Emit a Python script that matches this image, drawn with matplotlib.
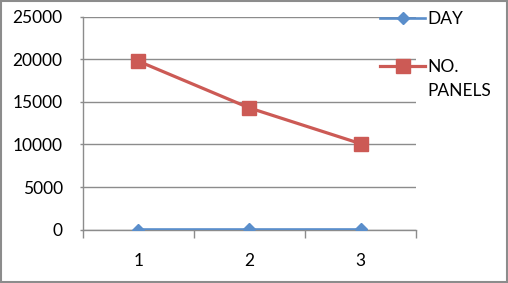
import matplotlib
matplotlib.use('Agg')
import matplotlib.pyplot as plt
from matplotlib.ticker import FixedLocator

# chart data
categories = [1, 2, 3]
day_values = [1, 2, 3]
panel_values = [19800, 14300, 10100]
y_ticks = [0, 5000, 10000, 15000, 20000, 25000]

BLUE = '#5A8ECB'
RED = '#CC5A55'
GRID = '#8C8C8C'


def main():
    plt.rcParams['font.family'] = ['Lato', 'DejaVu Sans']
    fig = plt.figure(figsize=(5.08, 2.83), dpi=100)
    ax = fig.add_axes([0.163, 0.189, 0.656, 0.751])

    day_line, = ax.plot(categories, day_values, color=BLUE, lw=1.9,
                        marker='D', ms=6.5, zorder=3)
    panel_line, = ax.plot(categories, panel_values, color=RED, lw=2.3,
                          marker='s', ms=10.5, zorder=3)

    ax.set_xlim(0.5, 3.5)
    ax.set_ylim(0, 25000)
    ax.set_yticks(y_ticks)
    ax.set_xticks(categories)
    ax.xaxis.set_minor_locator(FixedLocator([0.5, 1.5, 2.5, 3.5]))

    ax.grid(axis='y', color=GRID, lw=1.0)
    ax.set_axisbelow(True)
    for side in ['top', 'right']:
        ax.spines[side].set_visible(False)
    for side in ['left', 'bottom']:
        ax.spines[side].set_color(GRID)
        ax.spines[side].set_linewidth(1.0)

    ax.tick_params(axis='y', length=2.5, width=1.0, color=GRID, pad=12,
                   labelsize=12.5)
    ax.tick_params(axis='x', which='major', length=0, pad=17, labelsize=12.5)
    ax.tick_params(axis='x', which='minor', length=5.5, width=1.0, color=GRID)

    leg = ax.legend([day_line, panel_line], ['DAY', 'NO.'], loc='upper left',
                    bbox_to_anchor=(0.748, 0.962),
                    bbox_transform=fig.transFigure, frameon=False,
                    borderpad=0, borderaxespad=0, handlelength=2.6,
                    handletextpad=0.15, labelspacing=1.85, fontsize=12.5)
    # second line of the legend label, placed under "NO."
    ax.annotate('PANELS', xy=(0, 0), xycoords=leg.get_texts()[1],
                xytext=(0, -6), textcoords='offset points', va='top',
                ha='left', fontsize=12.5, zorder=10)

    fig.patches.append(plt.Rectangle((0.002, 0.003), 0.996, 0.994,
                                     transform=fig.transFigure, fill=False,
                                     edgecolor=GRID, lw=1.5))
    fig.savefig('out.png', dpi=100)


if __name__ == '__main__':
    main()
